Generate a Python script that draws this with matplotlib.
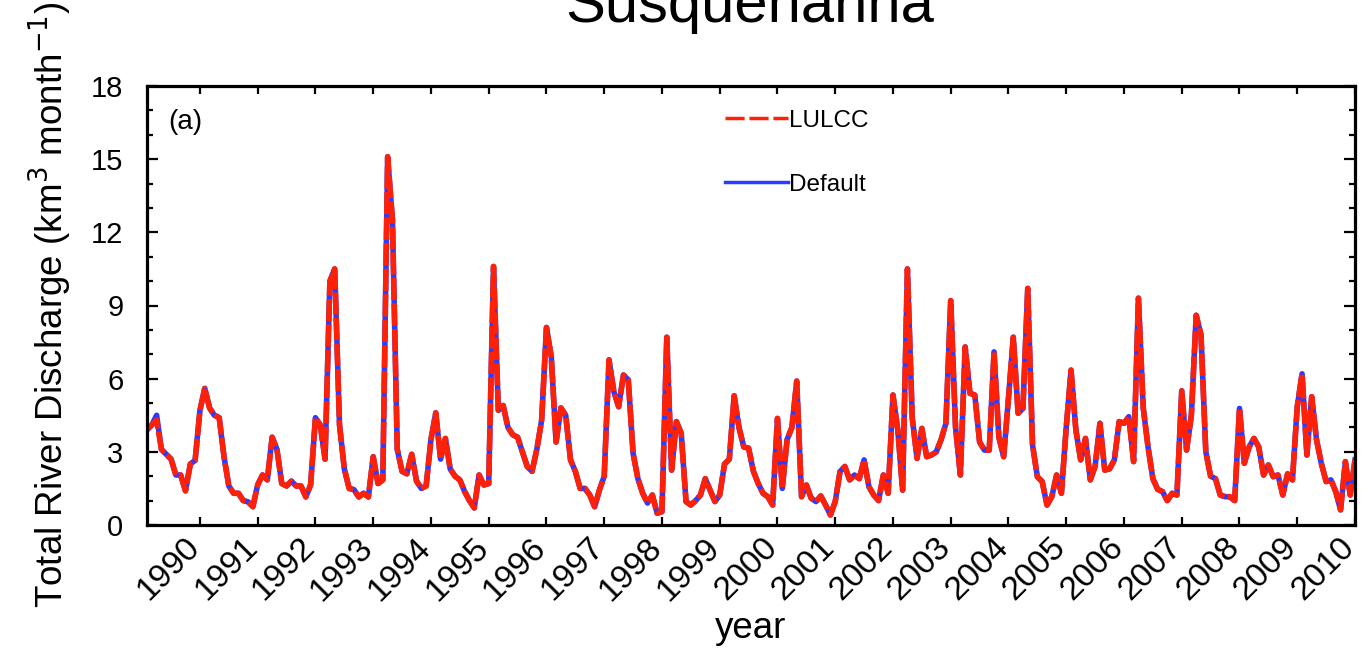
import matplotlib
matplotlib.use('Agg')
import matplotlib.pyplot as plt
import matplotlib.lines as mlines
import matplotlib.transforms as mtransforms
from matplotlib.ticker import MultipleLocator
import numpy as np

plt.rcParams['font.family'] = ['Liberation Sans', 'DejaVu Sans']

# tick labels on the time axis
year_labels = [str(y) for y in range(1990, 2011)]

# monthly total river discharge, LULCC run (km3/month), 12 values per row
lulcc = [
    3.9, 4.1, 4.3, 3.1, 2.9, 2.7, 2.05, 2.05, 1.4, 2.5, 2.65, 4.7,
    5.6, 4.8, 4.5, 4.4, 2.8, 1.6, 1.3, 1.3, 1.0, 0.95, 0.75, 1.65,
    2.05, 1.85, 3.6, 3.1, 1.7, 1.6, 1.8, 1.6, 1.6, 1.15, 1.65, 4.4,
    4.1, 2.7, 10.0, 10.5, 4.1, 2.3, 1.5, 1.45, 1.15, 1.3, 1.15, 2.8,
    1.7, 1.85, 15.1, 12.5, 3.1, 2.2, 2.1, 2.9, 1.8, 1.5, 1.6, 3.5,
    4.6, 2.7, 3.55, 2.3, 2.0, 1.85, 1.37, 1.0, 0.7, 2.05, 1.64, 1.7,
    10.6, 4.7, 4.9, 4.0, 3.7, 3.6, 3.0, 2.4, 2.2, 3.1, 4.3, 8.1,
    6.9, 3.4, 4.8, 4.5, 2.67, 2.2, 1.5, 1.5, 1.23, 0.75, 1.43, 2.0,
    6.77, 5.47, 4.85, 6.15, 5.95, 2.94, 1.9, 1.3, 0.9, 1.23, 0.48, 0.55,
    7.7, 2.25, 4.24, 3.76, 0.96, 0.82, 1.0, 1.23, 1.9, 1.43, 0.96, 1.23,
    2.5, 2.7, 5.3, 4.0, 3.2, 3.15, 2.2, 1.7, 1.3, 1.16, 0.82, 4.37,
    1.5, 3.5, 4.0, 5.9, 1.16, 1.64, 1.1, 0.96, 1.19, 0.82, 0.41, 0.96,
    2.19, 2.4, 1.85, 2.05, 1.9, 2.67, 1.57, 1.23, 1.0, 2.05, 1.3, 5.33,
    3.9, 1.43, 10.5, 4.4, 2.73, 3.96, 2.8, 2.87, 3.0, 3.5, 4.17, 9.2,
    4.0, 2.05, 7.3, 5.4, 5.33, 3.4, 3.07, 3.07, 7.1, 3.6, 2.8, 5.2,
    7.7, 4.58, 4.78, 9.7, 3.28, 1.98, 1.78, 0.82, 1.16, 2.05, 1.3, 4.0,
    6.35, 3.9, 2.67, 3.55, 1.85, 2.4, 4.17, 2.25, 2.3, 2.67, 4.24, 4.17,
    4.44, 2.6, 9.3, 4.8, 3.2, 1.9, 1.46, 1.37, 1.0, 1.3, 1.23, 5.5,
    3.07, 4.5, 8.6, 7.8, 3.0, 2.0, 1.9, 1.23, 1.16, 1.16, 1.0, 4.78,
    2.53, 3.2, 3.55, 3.2, 2.05, 2.46, 1.98, 2.05, 1.23, 2.1, 1.85, 4.85,
    6.2, 2.87, 5.26, 3.5, 2.53, 1.78, 1.85, 1.37, 0.62, 2.6, 1.23, 2.67,
]

# Default run is hidden under LULCC except where it pokes out
default_changes = {2: 4.5}
default = list(lulcc)
for k, v in default_changes.items():
    default[k] = v

# monthly time axis in decimal years
months = 1989 + np.arange(1, len(lulcc) + 1) / 12
year_ticks = np.arange(1990, 2011)

red = '#ff2008'
blue = '#2a3cff'

fig = plt.figure(figsize=(13.72, 6.53), dpi=100)
ax = fig.add_axes([147 / 1372, 1 - 525 / 653, 1208 / 1372, 439 / 653])

ax.plot(months, default, color=blue, lw=4, solid_joinstyle='round')
ax.plot(months, lulcc, color=red, lw=4, dashes=(4, 0.6),
        dash_joinstyle='round', dash_capstyle='butt')

ax.set_xlim(months[0], months[-1])
ax.set_ylim(0, 18)
ax.set_yticks(np.arange(0, 19, 3))
ax.yaxis.set_minor_locator(MultipleLocator(1))
ax.set_xticks(year_ticks)
ax.set_xticklabels(year_labels)

for s in ax.spines.values():
    s.set_linewidth(2.3)
ax.tick_params(axis='both', which='both', direction='in', top=True, right=True,
               width=1.6)
ax.tick_params(axis='y', which='major', length=8, labelsize=21, pad=17)
ax.tick_params(axis='y', which='minor', length=4.5)
ax.tick_params(axis='x', which='major', length=5.5, labelsize=24, pad=5)
ax.tick_params(axis='x', which='minor', bottom=False, top=False)

# labels sit a bit left of their tick, like the original
offset = mtransforms.ScaledTranslation(-16 / 100, 0, fig.dpi_scale_trans)
for lab in ax.get_xticklabels():
    lab.set_rotation(45)
    lab.set_ha('right')
    lab.set_va('top')
    lab.set_rotation_mode('anchor')
    lab.set_transform(lab.get_transform() + offset)

ax.text(0.0174, 0.9187, '(a)', transform=ax.transAxes, fontsize=20,
        ha='left', va='center')

lulcc_line = mlines.Line2D([], [], color=red, lw=2.5, dashes=(5.5, 1.4),
                           label='LULCC')
default_line = mlines.Line2D([], [], color=blue, lw=2.5, label='Default')
ax.legend(handles=[lulcc_line, default_line], loc='upper left',
          bbox_to_anchor=(0.4785, 0.946), frameon=False, fontsize=17.5,
          handlelength=2.59, handletextpad=0.05, borderpad=0,
          borderaxespad=0, labelspacing=1.73)

fig.text(750 / 1372, 1 - 22 / 653, 'Susquehanna', ha='center',
         va='baseline', fontsize=43)
fig.text(50 / 1372, 1 - 305 / 653,
         'Total River Discharge (km$^3$ month$^{-1}$)', rotation=90,
         ha='center', va='center', fontsize=26.5)
fig.text(751 / 1372, 1 - 638 / 653, 'year', ha='center', va='baseline',
         fontsize=26.5)

fig.savefig('out.png', dpi=100)
